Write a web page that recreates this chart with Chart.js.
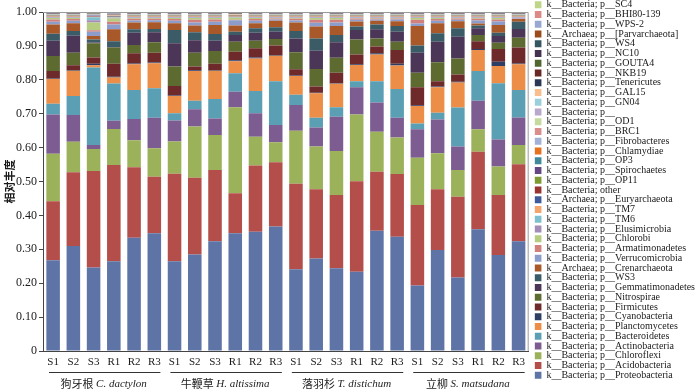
<!DOCTYPE html>
<html>
<head>
<meta charset="utf-8">
<script src="https://cdn.jsdelivr.net/npm/chart.js@4.4.0/dist/chart.umd.min.js"></script>
<style>
  html, body { margin: 0; padding: 0; background: #fff; }
</style>
</head>
<body>
<canvas id="abundanceChart" width="700" height="391"></canvas>
<script>
const samples = ['S1', 'S2', 'S3', 'R1', 'R2', 'R3', 'S1', 'S2', 'S3', 'R1', 'R2', 'R3',
                 'S1', 'S2', 'S3', 'R1', 'R2', 'R3', 'S1', 'S2', 'S3', 'R1', 'R2', 'R3']
const groupCn = ['狗牙根', '牛鞭草', '落羽杉', '立柳']
const groupLatin = ['C. dactylon', 'H. altissima', 'T. distichum', 'S. matsudana']

// relative abundance per sample, bottom of the stack first
const proteobacteria = [0.268, 0.310, 0.246, 0.265, 0.334, 0.347, 0.265, 0.285, 0.324, 0.347, 0.352, 0.367, 0.241, 0.273, 0.244, 0.234, 0.355, 0.337, 0.193, 0.298, 0.217, 0.359, 0.283, 0.324]
const acidobacteria = [0.174, 0.217, 0.285, 0.284, 0.208, 0.167, 0.258, 0.226, 0.210, 0.118, 0.195, 0.190, 0.252, 0.204, 0.216, 0.267, 0.174, 0.185, 0.238, 0.179, 0.238, 0.229, 0.177, 0.227]
const chloroflexi = [0.140, 0.090, 0.065, 0.106, 0.080, 0.084, 0.095, 0.151, 0.103, 0.254, 0.085, 0.059, 0.157, 0.126, 0.130, 0.197, 0.118, 0.108, 0.139, 0.106, 0.079, 0.066, 0.084, 0.057]
const actinobacteria = [0.116, 0.079, 0.012, 0.024, 0.062, 0.090, 0.062, 0.051, 0.049, 0.046, 0.069, 0.051, 0.076, 0.056, 0.101, 0.080, 0.086, 0.058, 0.084, 0.100, 0.069, 0.084, 0.080, 0.081]
const bacteroidetes = [0.031, 0.056, 0.228, 0.110, 0.086, 0.087, 0.021, 0.025, 0.057, 0.054, 0.066, 0.129, 0.030, 0.029, 0.028, 0.018, 0.063, 0.085, 0.017, 0.020, 0.115, 0.088, 0.166, 0.081]
const planctomycetes = [0.073, 0.075, 0.007, 0.018, 0.076, 0.074, 0.051, 0.088, 0.084, 0.036, 0.096, 0.075, 0.055, 0.072, 0.069, 0.048, 0.079, 0.069, 0.052, 0.075, 0.074, 0.062, 0.051, 0.076]
const cyanobacteria = [0.002, 0.002, 0.004, 0.002, 0.002, 0.002, 0.002, 0.002, 0.002, 0.003, 0.003, 0.002, 0.002, 0.002, 0.002, 0.002, 0.003, 0.005, 0.002, 0.002, 0.002, 0.003, 0.012, 0.002]
const firmicutes = [0.022, 0.014, 0.019, 0.038, 0.030, 0.029, 0.028, 0.011, 0.018, 0.025, 0.027, 0.028, 0.018, 0.018, 0.031, 0.029, 0.020, 0.041, 0.053, 0.016, 0.022, 0.023, 0.038, 0.047]
const nitrospirae = [0.044, 0.037, 0.042, 0.048, 0.025, 0.031, 0.057, 0.041, 0.038, 0.029, 0.022, 0.019, 0.050, 0.052, 0.044, 0.044, 0.024, 0.024, 0.043, 0.056, 0.047, 0.018, 0.018, 0.029]
const gemmatimonadetes = [0.045, 0.050, 0.002, 0.002, 0.036, 0.029, 0.069, 0.037, 0.030, 0.020, 0.024, 0.022, 0.041, 0.054, 0.046, 0.028, 0.027, 0.030, 0.059, 0.060, 0.064, 0.020, 0.020, 0.026]
const ws3 = [0.021, 0.014, 0.009, 0.017, 0.010, 0.010, 0.039, 0.023, 0.020, 0.010, 0.013, 0.013, 0.022, 0.036, 0.021, 0.010, 0.014, 0.017, 0.021, 0.025, 0.025, 0.008, 0.010, 0.021]
const crenarchaeota = [0.027, 0.023, 0.010, 0.035, 0.020, 0.020, 0.020, 0.020, 0.027, 0.018, 0.015, 0.019, 0.025, 0.035, 0.027, 0.015, 0.011, 0.014, 0.058, 0.030, 0.021, 0.006, 0.023, 0.008]
const verrucomicrobia = [0.008, 0.007, 0.013, 0.014, 0.006, 0.006, 0.007, 0.009, 0.009, 0.016, 0.007, 0.004, 0.006, 0.011, 0.010, 0.005, 0.004, 0.005, 0.007, 0.007, 0.004, 0.009, 0.010, 0.002]
const armatimonadetes = [0.007, 0.005, 0.004, 0.008, 0.005, 0.004, 0.005, 0.008, 0.007, 0.001, 0.005, 0.003, 0.005, 0.009, 0.008, 0.004, 0.003, 0.003, 0.011, 0.005, 0.004, 0.005, 0.006, 0.001]
const chlorobi = [0.0045, 0.0035, 0.023, 0.010, 0.0025, 0.0025, 0.0035, 0.0055, 0.0045, 0.006, 0.0035, 0.0015, 0.0025, 0.0055, 0.0055, 0.0015, 0.0015, 0.0015, 0.0055, 0.0035, 0.0015, 0.0025, 0.0045, 0.0005]
const elusimicrobia = [0.001, 0.001, 0.007, 0.001, 0.001, 0.001, 0.001, 0.001, 0.001, 0.001, 0.001, 0.001, 0.001, 0.001, 0.001, 0.001, 0.001, 0.001, 0.001, 0.001, 0.001, 0.001, 0.001, 0.001]
const tm6 = [0.0015, 0.0015, 0.0085, 0.0015, 0.0015, 0.0015, 0.0015, 0.0015, 0.0015, 0.0015, 0.0015, 0.0015, 0.0015, 0.0015, 0.0015, 0.0015, 0.0015, 0.0015, 0.0015, 0.0015, 0.0015, 0.0015, 0.0015, 0.0015]
const tm7 = [0.0015, 0.0015, 0.0015, 0.0015, 0.0015, 0.0015, 0.0015, 0.0015, 0.0015, 0.0015, 0.0015, 0.0015, 0.0015, 0.0015, 0.0015, 0.0015, 0.0015, 0.0015, 0.0015, 0.0015, 0.0015, 0.0015, 0.0015, 0.0015]
const euryarchaeota = [0.001, 0.001, 0.001, 0.001, 0.001, 0.001, 0.001, 0.001, 0.001, 0.001, 0.001, 0.001, 0.001, 0.001, 0.001, 0.001, 0.001, 0.001, 0.001, 0.001, 0.001, 0.001, 0.001, 0.001]
const bacteriaOther = [0.001, 0.001, 0.001, 0.001, 0.001, 0.001, 0.001, 0.001, 0.001, 0.001, 0.001, 0.001, 0.001, 0.001, 0.001, 0.001, 0.001, 0.001, 0.001, 0.001, 0.001, 0.001, 0.001, 0.001]
const op11 = [.0005, .0005, .0005, .0005, .0005, .0005, .0005, .0005, .0005, .0005, .0005, .0005, .0005, .0005, .0005, .0005, .0005, .0005, .0005, .0005, .0005, .0005, .0005, .0005]
const spirochaetes = [.0005, .0005, .0005, .0005, .0005, .0005, .0005, .0005, .0005, .0005, .0005, .0005, .0005, .0005, .0005, .0005, .0005, .0005, .0005, .0005, .0005, .0005, .0005, .0005]
const op3 = [.0005, .0005, .0005, .0005, .0005, .0005, .0005, .0005, .0005, .0005, .0005, .0005, .0005, .0005, .0005, .0005, .0005, .0005, .0005, .0005, .0005, .0005, .0005, .0005]
const chlamydiae = [.0005, .0005, .0005, .0005, .0005, .0005, .0005, .0005, .0005, .0005, .0005, .0005, .0005, .0005, .0005, .0005, .0005, .0005, .0005, .0005, .0005, .0005, .0005, .0005]
const fibrobacteres = [.0005, .0005, .0005, .0005, .0005, .0005, .0005, .0005, .0005, .0005, .0005, .0005, .0005, .0005, .0005, .0005, .0005, .0005, .0005, .0005, .0005, .0005, .0005, .0005]
const brc1 = [.0005, .0005, .0005, .0005, .0005, .0005, .0005, .0005, .0005, .0005, .0005, .0005, .0005, .0005, .0005, .0005, .0005, .0005, .0005, .0005, .0005, .0005, .0005, .0005]
const od1 = [.0005, .0005, .0005, .0005, .0005, .0005, .0005, .0005, .0005, .0005, .0005, .0005, .0005, .0005, .0005, .0005, .0005, .0005, .0005, .0005, .0005, .0005, .0005, .0005]
const unnamed = [.0005, .0005, .0005, .0005, .0005, .0005, .0005, .0005, .0005, .0005, .0005, .0005, .0005, .0005, .0005, .0005, .0005, .0005, .0005, .0005, .0005, .0005, .0005, .0005]
const gn04 = [.0005, .0005, .0005, .0005, .0005, .0005, .0005, .0005, .0005, .0005, .0005, .0005, .0005, .0005, .0005, .0005, .0005, .0005, .0005, .0005, .0005, .0005, .0005, .0005]
const gal15 = [.0005, .0005, .0005, .0005, .0005, .0005, .0005, .0005, .0005, .0005, .0005, .0005, .0005, .0005, .0005, .0005, .0005, .0005, .0005, .0005, .0005, .0005, .0005, .0005]
const tenericutes = [.0005, .0005, .0005, .0005, .0005, .0005, .0005, .0005, .0005, .0005, .0005, .0005, .0005, .0005, .0005, .0005, .0005, .0005, .0005, .0005, .0005, .0005, .0005, .0005]
const nkb19 = [.0005, .0005, .0005, .0005, .0005, .0005, .0005, .0005, .0005, .0005, .0005, .0005, .0005, .0005, .0005, .0005, .0005, .0005, .0005, .0005, .0005, .0005, .0005, .0005]
const gouta4 = [.0005, .0005, .0005, .0005, .0005, .0005, .0005, .0005, .0005, .0005, .0005, .0005, .0005, .0005, .0005, .0005, .0005, .0005, .0005, .0005, .0005, .0005, .0005, .0005]
const nc10 = [.0005, .0005, .0005, .0005, .0005, .0005, .0005, .0005, .0005, .0005, .0005, .0005, .0005, .0005, .0005, .0005, .0005, .0005, .0005, .0005, .0005, .0005, .0005, .0005]
const ws4 = [.0005, .0005, .0005, .0005, .0005, .0005, .0005, .0005, .0005, .0005, .0005, .0005, .0005, .0005, .0005, .0005, .0005, .0005, .0005, .0005, .0005, .0005, .0005, .0005]
const parvarchaeota = [.0005, .0005, .0005, .0005, .0005, .0005, .0005, .0005, .0005, .0005, .0005, .0005, .0005, .0005, .0005, .0005, .0005, .0005, .0005, .0005, .0005, .0005, .0005, .0005]
const wps2 = [.0015, .0015, .0015, .0015, .0015, .0015, .0015, .0015, .0015, .0015, .0015, .0015, .0015, .0015, .0015, .0015, .0015, .0015, .0015, .0015, .0015, .0015, .0015, .0015]
const bhi80 = [.0015, .0015, .0015, .0015, .0015, .0015, .0015, .0015, .0015, .0015, .0015, .0015, .0015, .0015, .0015, .0015, .0015, .0015, .0015, .0015, .0015, .0015, .0015, .0015]
const sc4 = [.0005, .0005, .0005, .0005, .0005, .0005, .0005, .0005, .0005, .0005, .0005, .0005, .0005, .0005, .0005, .0005, .0005, .0005, .0005, .0005, .0005, .0005, .0005, .0005]

const seriesNames = [
  'k__Bacteria; p__Proteobacteria', 'k__Bacteria; p__Acidobacteria', 'k__Bacteria; p__Chloroflexi',
  'k__Bacteria; p__Actinobacteria', 'k__Bacteria; p__Bacteroidetes', 'k__Bacteria; p__Planctomycetes',
  'k__Bacteria; p__Cyanobacteria', 'k__Bacteria; p__Firmicutes', 'k__Bacteria; p__Nitrospirae',
  'k__Bacteria; p__Gemmatimonadetes', 'k__Bacteria; p__WS3', 'k__Archaea; p__Crenarchaeota',
  'k__Bacteria; p__Verrucomicrobia', 'k__Bacteria; p__Armatimonadetes', 'k__Bacteria; p__Chlorobi',
  'k__Bacteria; p__Elusimicrobia', 'k__Bacteria; p__TM6', 'k__Bacteria; p__TM7',
  'k__Archaea; p__Euryarchaeota', 'k__Bacteria; other', 'k__Bacteria; p__OP11',
  'k__Bacteria; p__Spirochaetes', 'k__Bacteria; p__OP3', 'k__Bacteria; p__Chlamydiae',
  'k__Bacteria; p__Fibrobacteres', 'k__Bacteria; p__BRC1', 'k__Bacteria; p__OD1',
  'k__Bacteria; p__', 'k__Bacteria; p__GN04', 'k__Bacteria; p__GAL15',
  'k__Bacteria; p__Tenericutes', 'k__Bacteria; p__NKB19', 'k__Bacteria; p__GOUTA4',
  'k__Bacteria; p__NC10', 'k__Bacteria; p__WS4', 'k__Archaea; p__[Parvarchaeota]',
  'k__Bacteria; p__WPS-2', 'k__Bacteria; p__BHI80-139', 'k__Bacteria; p__SC4'
]
const seriesValues = [
  proteobacteria, acidobacteria, chloroflexi, actinobacteria, bacteroidetes, planctomycetes,
  cyanobacteria, firmicutes, nitrospirae, gemmatimonadetes, ws3, crenarchaeota,
  verrucomicrobia, armatimonadetes, chlorobi, elusimicrobia, tm6, tm7,
  euryarchaeota, bacteriaOther, op11, spirochaetes, op3, chlamydiae,
  fibrobacteres, brc1, od1, unnamed, gn04, gal15,
  tenericutes, nkb19, gouta4, nc10, ws4, parvarchaeota,
  wps2, bhi80, sc4
]
const seriesColors = [
  '#5f74a6', '#b44e4b', '#9bb25a', '#7d5d91', '#5b9fb4', '#ec8e48',
  '#2e3d63', '#6e2a2a', '#5d6b30', '#4c3657', '#3b5c67', '#a9582a',
  '#8c9ccb', '#d1807e', '#b6cc80', '#a48cb9', '#7fc0cf', '#f5a56c',
  '#3f5a9a', '#983330', '#7d9a33', '#654883', '#3f899a', '#e6711e',
  '#a3b1d6', '#d98e8c', '#c6d99e', '#b8a8cc', '#9bcfdb', '#f9be90',
  '#2c3657', '#672826', '#526630', '#44304f', '#335662', '#9a4c1b',
  '#98a8d3', '#dc8a87', '#bfd68a'
]

const datasets = seriesNames.map((name, i) => ({
  label: name,
  data: seriesValues[i],
  backgroundColor: seriesColors[i],
  borderWidth: 0,
  barPercentage: 0.67,
  categoryPercentage: 1
}))

// plot frame (top + right edge)
const framePlugin = {
  id: 'frame',
  afterDatasetsDraw(chart) {
    const { ctx, chartArea: a } = chart
    ctx.save()
    ctx.strokeStyle = '#9a9a9a'
    ctx.lineWidth = 1
    ctx.beginPath()
    ctx.moveTo(a.left, a.top + 0.5)
    ctx.lineTo(a.right - 0.5, a.top + 0.5)
    ctx.lineTo(a.right - 0.5, a.bottom)
    ctx.stroke()
    ctx.restore()
  }
}

// species names and underline under each group of six bars
const groupPlugin = {
  id: 'groups',
  afterDraw(chart) {
    const { ctx } = chart
    const x = chart.scales.x
    const half = (x.getPixelForValue(1) - x.getPixelForValue(0)) / 2
    ctx.save()
    groupCn.forEach((cn, g) => {
      const left = x.getPixelForValue(g * 6) - half
      const right = x.getPixelForValue(g * 6 + 5) + half
      ctx.strokeStyle = '#333'
      ctx.lineWidth = 1
      ctx.beginPath()
      ctx.moveTo(left + 6, 372.5)
      ctx.lineTo(right - 4, 372.5)
      ctx.stroke()

      const cnFont = '11px "Noto Sans CJK SC"'
      const latFont = 'italic 11px "Liberation Serif"'
      ctx.font = cnFont
      const wCn = ctx.measureText(cn + ' ').width
      ctx.font = latFont
      const wLat = ctx.measureText(groupLatin[g]).width
      let tx = (left + right) / 2 - (wCn + wLat) / 2
      ctx.fillStyle = '#222'
      ctx.textBaseline = 'middle'
      ctx.textAlign = 'left'
      ctx.font = cnFont
      ctx.fillText(cn, tx, 383.5)
      ctx.font = latFont
      ctx.fillText(groupLatin[g], tx + wCn, 384)
    })
    ctx.restore()
  }
}

// nudge the legend a little away from the plot
const legendShift = {
  id: 'legendShift',
  afterLayout(chart) {
    chart.legend.left = chart.chartArea.right + 6
  }
}

new Chart(document.getElementById('abundanceChart'), {
  type: 'bar',
  data: { labels: samples, datasets: datasets },
  plugins: [framePlugin, groupPlugin, legendShift],
  options: {
    responsive: false,
    animation: false,
    layout: { padding: { right: 1 } },
    plugins: {
      tooltip: { enabled: false },
      legend: {
        position: 'right',
        align: 'start',
        reverse: true,
        labels: {
          boxWidth: 7,
          boxHeight: 7,
          padding: -0.25,
          color: '#1a1a1a',
          font: { family: 'Liberation Serif', size: 10 }
        }
      }
    },
    scales: {
      x: {
        stacked: true,
        grid: { display: false, drawTicks: false },
        border: { display: true, color: '#444' },
        ticks: {
          color: '#1a1a1a',
          padding: 5,
          maxRotation: 0,
          autoSkip: false,
          font: { family: 'Liberation Serif', size: 11 }
        },
        afterFit(s) { s.height = 40 }
      },
      xTop: {
        axis: 'x',
        position: 'top',
        grid: { display: false },
        border: { display: false },
        ticks: { display: false },
        afterFit(s) { s.height = 12 }
      },
      y: {
        stacked: true,
        min: 0,
        max: 1,
        grid: { drawOnChartArea: false, drawTicks: true, tickLength: 4, color: '#444' },
        border: { display: true, color: '#444' },
        ticks: {
          stepSize: 0.1,
          padding: 2,
          color: '#1a1a1a',
          font: { family: 'Liberation Serif', size: 12 },
          callback: v => v === 0 ? '0' : v.toFixed(2)
        },
        title: {
          display: true,
          text: '相对丰度',
          color: '#1a1a1a',
          padding: { top: 3, bottom: 0 },
          font: { family: 'Noto Sans CJK SC', size: 11, weight: 'bold' }
        },
        afterFit(s) { s.width = 43 }
      }
    }
  }
})
</script>
</body>
</html>
